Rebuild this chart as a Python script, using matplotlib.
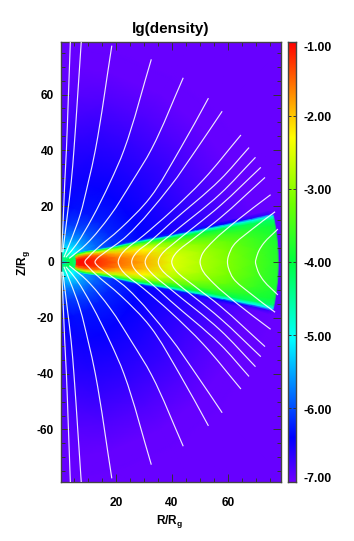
import numpy as np
import matplotlib
matplotlib.use('Agg')
import matplotlib.pyplot as plt
from matplotlib.colors import LinearSegmentedColormap, Normalize
from matplotlib.patches import PathPatch
from matplotlib.path import Path

plt.rcParams['font.family'] = 'Liberation Sans'
plt.rcParams['font.weight'] = 'bold'
plt.rcParams['mathtext.fontset'] = 'custom'
plt.rcParams['mathtext.bf'] = 'Liberation Sans:bold'
plt.rcParams['mathtext.rm'] = 'Liberation Sans:bold'
plt.rcParams['axes.unicode_minus'] = False

# lg(density), on a spherical grid (upper half, mirrored below)
radii = [0.3, 1.0, 1.6, 2.5, 4.0, 5.6, 5.9, 7, 10, 14, 20, 30, 40, 50, 60, 70, 76.5, 77.8, 78.4, 115]
disk_edge = [30, 30, 30, 30, 30, 30, 30, 30, 25, 20, 17, 15.5, 14, 13.5, 13.2, 13, 13, 13, 13, 13]

# rows inside the disk, as a fraction of the edge angle
disk_frac = [0, 0.3, 0.55, 0.75, 0.88, 0.95, 1.0]
disk_0 = [-6.9, -6.9, -6.0, -4.3, -4.0, -4.3, -1.1, -1.05, -1.1, -1.25, -1.5, -1.85, -2.5, -2.8, -3.1, -3.45, -3.7, -3.75, -6.9, -6.95]
disk_1 = [-6.9, -6.6, -5.5, -4.3, -4.0, -4.3, -1.15, -1.1, -1.15, -1.3, -1.6, -1.95, -2.55, -2.85, -3.15, -3.5, -3.72, -3.78, -6.9, -6.95]
disk_2 = [-6.5, -5.5, -4.6, -4.2, -4.0, -4.3, -1.7, -1.6, -1.5, -1.6, -1.95, -2.3, -2.8, -3.05, -3.3, -3.6, -3.78, -3.85, -6.9, -6.95]
disk_3 = [-6.0, -4.8, -4.2, -4.1, -4.1, -4.4, -3.1, -3.0, -2.6, -2.5, -2.7, -2.95, -3.25, -3.45, -3.62, -3.8, -3.9, -4.0, -6.9, -6.95]
disk_4 = [-5.5, -4.6, -4.2, -4.2, -4.3, -4.6, -4.0, -3.95, -3.8, -3.6, -3.7, -3.85, -3.95, -4.0, -4.05, -4.15, -4.2, -4.3, -6.9, -6.95]
disk_5 = [-5.3, -4.6, -4.25, -4.3, -4.5, -4.8, -4.6, -4.6, -4.6, -4.65, -4.7, -4.75, -4.8, -4.85, -4.9, -4.95, -5.0, -5.1, -6.9, -6.95]
disk_6 = [-5.2, -4.6, -4.3, -4.3, -4.6, -4.95, -5.3, -5.4, -5.6, -5.75, -5.95, -6.1, -6.2, -6.3, -6.4, -6.6, -6.7, -6.85, -6.9, -6.95]

# rows above the disk edge, as a fraction of the way from the edge to the pole
wind_frac = [0.013, 0.09, 0.2, 0.4, 0.6, 0.8, 0.93, 0.99]
wind_0 = [-5.2, -4.6, -4.3, -4.3, -4.6, -5.0, -5.1, -5.25, -5.6, -5.85, -6.15, -6.4, -6.5, -6.6, -6.75, -6.9, -6.93, -6.95, -6.95, -6.95]
wind_1 = [-5.2, -4.6, -4.3, -4.3, -4.6, -5.0, -5.05, -5.2, -5.55, -5.85, -6.15, -6.4, -6.52, -6.65, -6.8, -6.92, -6.93, -6.95, -6.95, -6.95]
wind_2 = [-5.3, -4.6, -4.3, -4.4, -4.7, -5.0, -5.05, -5.2, -5.55, -5.9, -6.2, -6.4, -6.55, -6.7, -6.83, -6.93, -6.94, -6.95, -6.95, -6.95]
wind_3 = [-5.5, -4.7, -4.4, -4.5, -4.8, -5.05, -5.1, -5.25, -5.6, -5.95, -6.25, -6.42, -6.55, -6.68, -6.82, -6.93, -6.94, -6.95, -6.95, -6.95]
wind_4 = [-5.8, -4.9, -4.5, -4.6, -4.9, -5.15, -5.2, -5.35, -5.7, -6.05, -6.3, -6.42, -6.55, -6.68, -6.82, -6.93, -6.94, -6.95, -6.95, -6.95]
wind_5 = [-6.2, -5.2, -4.8, -4.8, -5.05, -5.3, -5.35, -5.5, -5.8, -6.1, -6.33, -6.45, -6.56, -6.68, -6.82, -6.93, -6.94, -6.95, -6.95, -6.95]
wind_6 = [-6.6, -5.7, -5.2, -5.1, -5.3, -5.5, -5.55, -5.65, -5.9, -6.15, -6.38, -6.5, -6.6, -6.72, -6.85, -6.93, -6.94, -6.95, -6.95, -6.95]
wind_7 = [-6.8, -6.6, -6.5, -6.4, -6.4, -6.45, -6.45, -6.5, -6.55, -6.6, -6.65, -6.72, -6.78, -6.85, -6.9, -6.95, -6.95, -6.95, -6.95, -6.95]

# colour bar stops
cbar_values = [-7.0, -6.4, -5.05, -4.0, -3.2, -2.3, -2.0, -1.0]
cbar_colors = ['#7000ff', '#0000ff', '#00ffff', '#00ff40', '#70ff00', '#ffff00', '#ffc800', '#ff0000']
cbar_ticks = [-7, -6, -5, -4, -3, -2, -1]
cbar_label_shift = [3, -3, -3, -2, -2, -2, -6]

# field lines, upper half (R, Z), mirrored below
line_1 = [(0.6, 3.5), (1.2, 16.6), (1.7, 28.6), (2.3, 40.5), (3.0, 59.5), (3.7, 79)]
line_2 = [(1.0, 3.5), (2.6, 16.6), (4.0, 28.6), (5.0, 40.5), (6.3, 59.5), (7.6, 79)]
line_3 = [(1.4, 1.7), (3.6, 7), (7.1, 16.6), (10.1, 28.6), (12.6, 40), (18.5, 77.5)]
line_4 = [(2.1, 1.7), (6, 6.5), (11.3, 15.4), (17.9, 28.6), (22.8, 40), (32.6, 72.6)]
line_5 = [(3.3, 1.3), (9.5, 6.5), (17.9, 16.6), (25.6, 28.6), (32.7, 40.5), (44, 66)]
line_6 = [(8.9, 0), (10.1, 1.7), (13.1, 4.7), (21.4, 11.8), (32.1, 23), (42.9, 40.5), (53, 58.7)]
line_7 = [(12.5, 0), (13.2, 1.2), (14.9, 2.6), (23.8, 9.3), (39.3, 27), (48.8, 40.5), (57.9, 54)]
line_8 = [(20.8, 0), (21.2, 1.5), (22.6, 3.6), (29.8, 9.5), (39.3, 17.8), (51.2, 29.5), (64.6, 45.5)]
line_9 = [(25.6, 0), (26, 1.5), (27.5, 3.6), (32, 7.2), (39.3, 13.8), (57.2, 29.5), (67.5, 41)]
line_10 = [(30.4, 0), (30.8, 1.5), (32.5, 3.8), (39.3, 9.6), (57.2, 24.4), (69.8, 37.5)]
line_11 = [(35.1, 0), (35.5, 1.5), (37, 3.6), (39.3, 5.6), (57.2, 20.2), (71.7, 33.9)]
line_12 = [(39.9, 0), (40.3, 1.5), (41.7, 3.5), (47.6, 8.3), (57.2, 15.8), (73.2, 30.3)]
line_13 = [(50, 0), (50.3, 1.5), (51, 3.2), (54.8, 7.6), (63.1, 14.8), (75.2, 24.1)]
line_14 = [(59.8, 0), (60.1, 2), (61.9, 5.9), (67.9, 11.2), (76.8, 18)]
line_15 = [(69.8, 0), (70, 1.1), (71, 4), (72.8, 6.8), (77.8, 11.8)]
wind_lines = [line_1, line_2, line_3, line_4, line_5]
disk_lines = [line_6, line_7, line_8, line_9, line_10, line_11, line_12, line_13, line_14, line_15]


def smooth_path(pts):
    '''
    Takes the points read for a field line and gives a Path through them
    made of cubic Bezier pieces, so the line does not look like a polygon
    '''
    chords = np.diff(pts, axis=0)
    gaps = np.linalg.norm(chords, axis=1)
    units = chords / gaps[:, None]
    # tangent at a point is the mean direction of the chords on both sides
    tang = np.vstack((units[:1], units[:-1] + units[1:], units[-1:]))
    tang = tang / np.linalg.norm(tang, axis=1)[:, None]
    verts = [pts[0]]
    codes = [Path.MOVETO]
    for i in range(len(pts) - 1):
        verts += [pts[i] + tang[i] * gaps[i] / 3, pts[i + 1] - tang[i + 1] * gaps[i] / 3, pts[i + 1]]
        codes += [Path.CURVE4] * 3
    return Path(verts, codes)


def add_line(ax, pts):
    ax.add_patch(PathPatch(smooth_path(pts), fill=False, edgecolor='white', lw=0.85,
                           alpha=0.9, zorder=3))


# build the upper half rows, then mirror them across the equator
r = np.array(radii)
edge = np.array(disk_edge, dtype=float)
disk_rows = [disk_0, disk_1, disk_2, disk_3, disk_4, disk_5, disk_6]
wind_rows = [wind_0, wind_1, wind_2, wind_3, wind_4, wind_5, wind_6, wind_7]

angles = [f * edge for f in disk_frac]
for f in wind_frac:
    angles.append(edge + f * (90 - edge))
angles = np.array(angles)
values = np.array(disk_rows + wind_rows)

angles = np.vstack((-angles[:0:-1], angles))
values = np.vstack((values[:0:-1], values))

rad = np.radians(angles)
R = r * np.cos(rad)
Z = r * np.sin(rad)

cmap = LinearSegmentedColormap.from_list(
    'density', [((v + 7) / 6, c) for v, c in zip(cbar_values, cbar_colors)], N=512)
norm = Normalize(-7, -1)

W, H = 354, 541
fig = plt.figure(figsize=(W / 100, H / 100), dpi=100)
ax = fig.add_axes([60.7 / W, 1 - 481.7 / H, 220 / W, 439.4 / H])
cax = fig.add_axes([287.7 / W, 1 - 481.7 / H, 8.6 / W, 439.4 / H])

ax.set_facecolor(cmap(0.02))
ax.pcolormesh(R, Z, values, shading='gouraud', cmap=cmap, norm=norm)

# field lines
for line in wind_lines:
    pts = np.array(line)
    add_line(ax, pts)
    add_line(ax, pts * [1, -1])
for line in disk_lines:
    pts = np.array(line)
    add_line(ax, np.vstack((pts[:0:-1] * [1, -1], pts)))

ax.set_xlim(0.25, 78.8)
ax.set_ylim(-78.7, 78.7)
ax.set_xticks([20, 40, 60])
ax.set_yticks([-60, -40, -20, 0, 20, 40, 60])
ax.set_xticks(np.arange(5, 79, 5), minor=True)
ax.set_yticks(np.arange(-75, 76, 5), minor=True)
ax.tick_params(which='major', direction='in', top=True, right=True, length=6,
               width=0.7, color='#333333', labelsize=8.6)
ax.tick_params(which='minor', direction='in', top=True, right=True, length=3,
               width=0.7, color='#333333')
ax.tick_params(axis='y', which='major', pad=5)
ax.tick_params(axis='x', which='major', pad=11)
for spine in ax.spines.values():
    spine.set_linewidth(1)
    spine.set_color('#444444')

fig.text(170.5 / W, 1 - 28.5 / H, 'lg(density)', fontsize=11, ha='center', va='center')
fig.text(170 / W, 1 - 522 / H, r'$\mathbf{R/R_g}$', fontsize=8.6, ha='center', va='center')
fig.text(23 / W, 1 - 263 / H, r'$\mathbf{Z/R_g}$', fontsize=8.6, ha='center', va='center',
         rotation=90)

# colour bar
bar = np.linspace(-7, -1, 512).reshape(-1, 1)
cax.imshow(bar, origin='lower', aspect='auto', cmap=cmap, norm=norm, extent=(0, 1, -7, -1))
cax.set_xticks([])
cax.set_yticks(cbar_ticks)
cax.set_yticklabels([])
cax.tick_params(axis='y', direction='in', left=True, right=True, length=2,
                width=0.7, color='#333333')
for spine in cax.spines.values():
    spine.set_linewidth(1)
    spine.set_color('#444444')
for v, shift in zip(cbar_ticks, cbar_label_shift):
    cax.annotate(f'{v:.2f}', xy=(1, v), xycoords=('axes fraction', 'data'),
                 xytext=(5, shift * 0.72), textcoords='offset points', fontsize=8.8,
                 ha='left', va='center', annotation_clip=False)

fig.savefig('out.png', dpi=100)
